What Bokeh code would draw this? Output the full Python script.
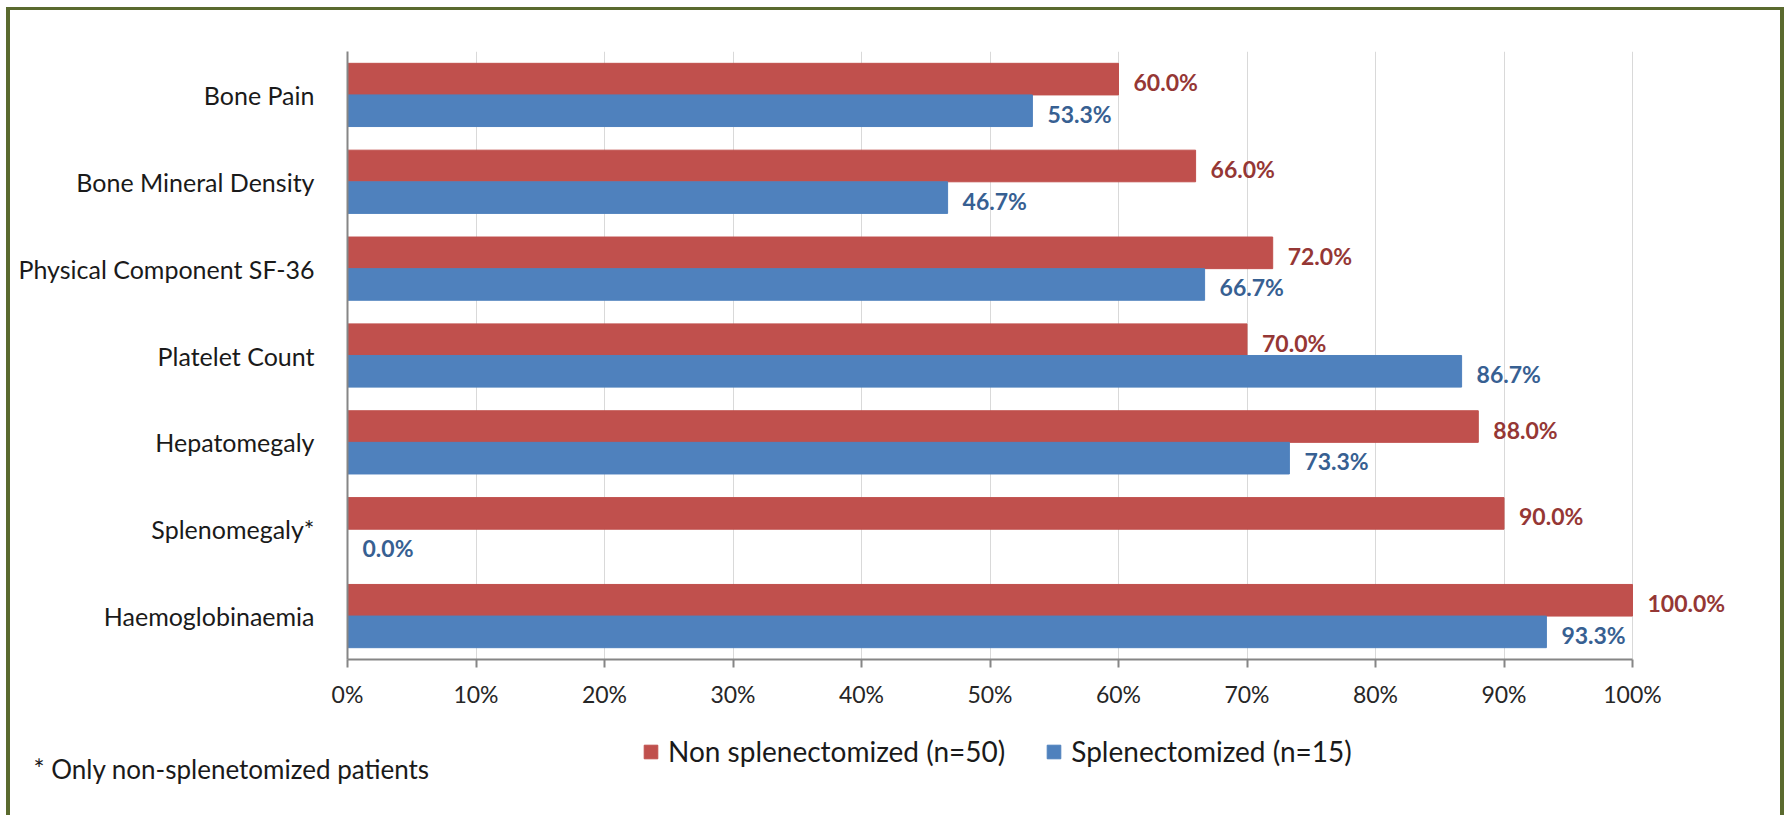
from bokeh.plotting import figure
from bokeh.layouts import column
from bokeh.models import (ColumnDataSource, FactorRange, Range1d, FixedTicker, LabelSet,
                          Legend, LegendItem, Label)
from bokeh.transform import dodge
from bokeh.core.properties import value
from bokeh.embed import file_html
from bokeh.resources import INLINE

# ---- data ----
categories = ["Bone Pain", "Bone Mineral Density", "Physical Component SF-36",
              "Platelet Count", "Hepatomegaly", "Splenomegaly*", "Haemoglobinaemia"]
non_splenectomized = [60.0, 66.0, 72.0, 70.0, 88.0, 90.0, 100.0]
splenectomized = [53.3, 46.7, 66.7, 86.7, 73.3, 0.0, 93.3]
tick_values = [0, 10, 20, 30, 40, 50, 60, 70, 80, 90, 100]
tick_labels = ["0%", "10%", "20%", "30%", "40%", "50%", "60%", "70%", "80%", "90%", "100%"]
series_names = ["Non splenectomized (n=50)", "Splenectomized (n=15)"]
footnote = "* Only non-splenetomized patients"

RED = "#C0504D"
BLUE = "#4F81BD"
RED_TXT = "#953735"
BLUE_TXT = "#376092"
FRAME = "#5A6A2E"
TXT = "#1a1a1a"
FONT = "Lato"

src = ColumnDataSource(dict(
    cat=categories,
    non=non_splenectomized,
    spl=splenectomized,
    non_txt=[f"{v:.1f}%" for v in non_splenectomized],
    spl_txt=[f"{v:.1f}%" for v in splenectomized],
))

PX_PER_PCT = 12.85
FULL_W = 1770
LEFT = 337
FRAME_W = FULL_W - LEFT
MAIN_BOTTOM = 60
p = figure(
    y_range=FactorRange(factors=list(reversed(categories)), range_padding=0),
    x_range=Range1d(0, FRAME_W / PX_PER_PCT),
    frame_width=FRAME_W, frame_height=608,
    min_border_left=LEFT, min_border_right=0, min_border_top=41, min_border_bottom=MAIN_BOTTOM,
    output_backend="svg", toolbar_location=None,
    background_fill_color="white", border_fill_color="white",
)
p.frame_align = False
p.outline_line_color = None

bar_h = 0.364
r1 = p.hbar(y=dodge("cat", bar_h / 2, range=p.y_range), right="non", left=0, height=bar_h,
            source=src, fill_color=RED, line_color=RED, line_width=1)
r2 = p.hbar(y=dodge("cat", -bar_h / 2, range=p.y_range), right="spl", left=0, height=bar_h,
            source=src, fill_color=BLUE, line_color=BLUE, line_width=1)

# value labels
for field, txt, off, col in (("non", "non_txt", bar_h / 2, RED_TXT), ("spl", "spl_txt", -bar_h / 2, BLUE_TXT)):
    p.add_layout(LabelSet(x=field, y=dodge("cat", off, range=p.y_range), text=txt, source=src,
                          x_offset=15, y_offset=-3, text_baseline="middle", text_align="left",
                          text_font=value(FONT), text_font_size="23px", text_font_style="bold",
                          text_color=col))

# axes
p.xaxis.ticker = FixedTicker(ticks=tick_values)
p.xaxis.bounds = (0, 100)
p.xaxis.major_label_overrides = {v: l for v, l in zip(tick_values, tick_labels)}
p.xaxis.axis_line_color = "#868686"
p.xaxis.axis_line_width = 2
p.xaxis.major_tick_line_color = "#868686"
p.xaxis.major_tick_line_width = 2
p.xaxis.major_tick_out = 8
p.xaxis.major_tick_in = 0
p.xaxis.minor_tick_line_color = None
p.xaxis.major_label_standoff = 12
p.xaxis.major_label_text_font = FONT
p.xaxis.major_label_text_font_size = "23px"
p.xaxis.major_label_text_color = "#262626"

p.yaxis.axis_line_color = "#868686"
p.yaxis.axis_line_width = 2
p.yaxis.major_tick_line_color = None
p.yaxis.minor_tick_line_color = None
p.yaxis.major_label_standoff = 27
p.yaxis.major_label_text_font = FONT
p.yaxis.major_label_text_font_size = "25px"
p.yaxis.major_label_text_color = TXT

p.xgrid.grid_line_color = "#D9D9D9"
p.xgrid.grid_line_width = 1
p.ygrid.grid_line_color = None

# ---- bottom strip: legend + footnote ----
BOT_H = 805 - (41 + 608 + MAIN_BOTTOM)
q = figure(
    x_range=Range1d(0, FULL_W), y_range=Range1d(0, BOT_H),
    width=FULL_W, height=BOT_H, min_border=0,
    x_axis_type=None, y_axis_type=None,
    output_backend="svg", toolbar_location=None,
    background_fill_color="white", border_fill_color="white",
)
q.frame_align = False
q.outline_line_color = None
q.grid.grid_line_color = None

# legend swatch renderers (hidden in the strip; only their legend glyphs show)
k1 = q.hbar(y="non", right="non", left=0, height=1, source=src,
            fill_color=RED, line_color=RED, visible=False)
k2 = q.hbar(y="spl", right="spl", left=0, height=1, source=src,
            fill_color=BLUE, line_color=BLUE, visible=False)

legend = Legend(
    items=[LegendItem(label=series_names[0], renderers=[k1]),
           LegendItem(label=series_names[1], renderers=[k2])],
    orientation="horizontal", location=(632, 47),
    glyph_width=17, glyph_height=17, label_standoff=9, spacing=40,
    padding=0, margin=0, border_line_color=None, background_fill_alpha=0,
    inactive_fill_alpha=0,
    label_text_font=FONT, label_text_font_size="28px", label_text_color=TXT,
)
q.add_layout(legend)

q.add_layout(Label(x=23, y=47, text=footnote, text_font=FONT, text_font_size="26px",
                   text_color=TXT, text_baseline="middle", text_align="left"))

page = column(p, q, spacing=0,
              styles={"margin-left": "6px", "margin-top": "7px",
                      "border-left": f"4px solid {FRAME}", "border-top": f"3px solid {FRAME}",
                      "border-right": f"4px solid {FRAME}"})

open("out.html", "w").write(file_html(page, INLINE))
